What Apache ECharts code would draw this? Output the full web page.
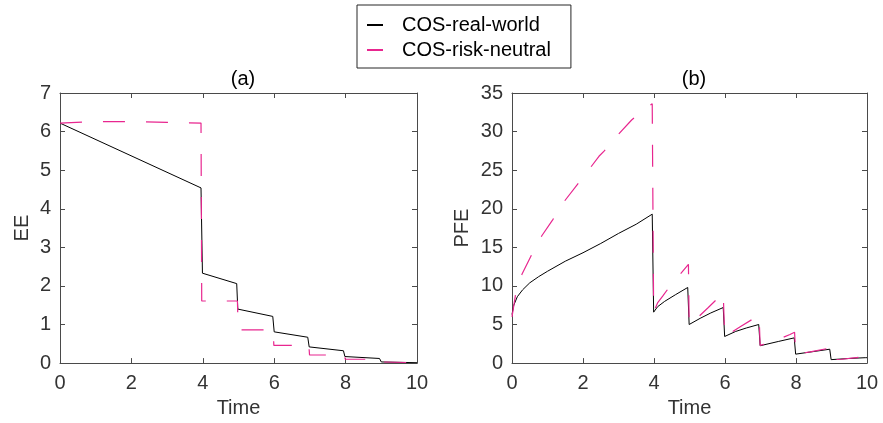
<!DOCTYPE html>
<html>
<head>
<meta charset="utf-8">
<script src="https://cdn.jsdelivr.net/npm/echarts@6/dist/echarts.min.js"></script>
<style>
  html, body { margin: 0; padding: 0; background: #fff; }
  #chart { width: 883px; height: 423px; }
</style>
</head>
<body>
<div id="chart"></div>
<script>
// ---- data ----
const xTicks = [0, 2, 4, 6, 8, 10]

// (a) EE
const eeRealT = [0, 3.95, 3.99, 4.95, 4.98, 5.96, 6.0, 6.94, 6.98, 7.94, 7.98, 8.95, 9.0, 10]
const eeRealV = [6.22, 4.54, 2.33, 2.06, 1.40, 1.21, 0.81, 0.67, 0.42, 0.32, 0.17, 0.12, 0.03, 0.01]
const eeRiskT = [0, 1, 2, 3, 3.95, 3.97, 4.97, 4.99, 5.97, 5.99, 6.97, 6.99, 7.97, 7.99, 8.97, 8.99, 10]
const eeRiskV = [6.22, 6.26, 6.26, 6.24, 6.22, 1.61, 1.61, 0.86, 0.86, 0.46, 0.46, 0.21, 0.21, 0.10, 0.10, 0.03, 0.01]

// (b) PFE
const pfeRealT = [0, 0.05, 0.15, 0.3, 0.5, 0.75, 1, 1.5, 2, 2.5, 3, 3.5, 3.95, 3.99, 4.1, 4.3, 4.6, 4.95, 4.99, 5.3, 5.6, 5.95, 5.99, 6.3, 6.6, 6.95, 6.99, 7.5, 7.95, 7.99, 8.5, 8.95, 8.99, 9.5, 9.95, 10]
const pfeRealV = [6.3, 7.5, 8.6, 9.5, 10.4, 11.2, 11.9, 13.2, 14.3, 15.5, 16.8, 18.0, 19.3, 6.6, 7.3, 8.0, 8.85, 9.8, 5.0, 5.8, 6.5, 7.2, 3.45, 4.1, 4.55, 5.0, 2.25, 2.8, 3.27, 1.16, 1.5, 1.8, 0.45, 0.6, 0.7, 0.7]
const pfeRiskT = [0, 0.1, 0.28, 0.56, 0.84, 1.15, 1.48, 1.85, 2.22, 2.45, 2.6, 2.97, 3.37, 3.7, 3.95, 3.99, 4.1, 4.25, 4.5, 4.75, 4.97, 4.99, 5.09, 5.53, 5.95, 5.99, 6.44, 6.96, 6.99, 7.29, 7.83, 7.96, 7.99, 8.4, 8.96, 8.99, 9.28, 9.97, 10]
const pfeRiskV = [6.0, 8.9, 11.5, 14.1, 16.5, 18.6, 21.0, 23.2, 25.4, 26.8, 27.5, 29.5, 31.5, 32.8, 33.6, 6.6, 7.8, 8.7, 10.3, 11.6, 12.8, 5.0, 5.3, 7.2, 9.1, 3.45, 4.75, 6.2, 2.3, 2.7, 3.7, 4.0, 1.16, 1.45, 1.95, 0.43, 0.5, 0.85, 0.1]

const seriesNames = ['COS-real-world', 'COS-risk-neutral']
const panelTitles = ['(a)', '(b)']
const yNames = ['EE', 'PFE']

const ink = '#333333'
const axisInk = '#4a4a4a'
const pink = '#E8268F'
const font = 'Liberation Sans, Arial, Helvetica, sans-serif'

const zip = (ts, vs) => ts.map((t, i) => [t, vs[i]])

// 一个面板的四条轴（下/上，左/右），做成 MATLAB 那种四边框
function xPair(grid) {
  const base = {
    gridIndex: grid, type: 'value', min: 0, max: 10, interval: 2,
    splitLine: { show: false },
    axisLine: { onZero: false, lineStyle: { color: axisInk, width: 1 } },
    axisTick: { inside: true, length: 5, lineStyle: { color: axisInk } }
  }
  return [
    Object.assign({}, base, {
      position: 'bottom',
      name: 'Time', nameLocation: 'middle', nameGap: 32,
      nameTextStyle: { color: ink, fontSize: 20, fontFamily: font },
      axisLabel: { color: ink, fontSize: 20, fontFamily: font, margin: 10,
        formatter: v => xTicks.includes(v) ? String(v) : '' }
    }),
    Object.assign({}, base, { position: 'top', axisLabel: { show: false } })
  ]
}

function yPair(grid, max, interval, name, gap) {
  const base = {
    gridIndex: grid, type: 'value', min: 0, max: max, interval: interval,
    splitLine: { show: false },
    axisLine: { show: true, onZero: false, lineStyle: { color: axisInk, width: 1 } },
    axisTick: { show: true, inside: true, length: 5, lineStyle: { color: axisInk } }
  }
  return [
    Object.assign({}, base, {
      position: 'left',
      name: name, nameLocation: 'middle', nameGap: gap,
      nameTextStyle: { color: ink, fontSize: 20, fontFamily: font },
      axisLabel: { color: ink, fontSize: 20, fontFamily: font, margin: 9 }
    }),
    Object.assign({}, base, { position: 'right', axisLabel: { show: false } })
  ]
}

function line(name, data, axis, dashed) {
  return {
    name: name, type: 'line', data: data,
    xAxisIndex: axis, yAxisIndex: axis,
    showSymbol: false, symbol: 'none', animation: false,
    lineStyle: dashed
      ? { color: pink, width: 1.2, type: [22, 21] }
      : { color: '#000', width: 1 },
    itemStyle: { color: dashed ? pink : '#000' },
    z: dashed ? 3 : 2
  }
}

const chart = echarts.init(document.getElementById('chart'))

const option = {
  backgroundColor: '#fff',
  animation: false,
  title: [
    { text: panelTitles[0], left: 238, top: 64, textAlign: 'center',
      textStyle: { color: '#000', fontSize: 20, fontWeight: 'normal', fontFamily: font } },
    { text: panelTitles[1], left: 689, top: 64, textAlign: 'center',
      textStyle: { color: '#000', fontSize: 20, fontWeight: 'normal', fontFamily: font } }
  ],
  legend: {
    orient: 'vertical', left: 357, top: 5,
    padding: [9, 20, 7, 10], itemGap: 3,
    itemWidth: 16, itemHeight: 2, icon: 'rect',
    borderColor: '#262626', borderWidth: 1, backgroundColor: '#fff',
    data: seriesNames,
    textStyle: { color: '#000', fontSize: 20, fontFamily: font, lineHeight: 22,
      padding: [0, 0, 0, 14] }
  },
  grid: [
    { left: 60, right: 466, top: 93, bottom: 59 },
    { left: 512, right: 16, top: 93, bottom: 59 }
  ],
  xAxis: [...xPair(0), ...xPair(1)],
  yAxis: [...yPair(0, 7, 1, yNames[0], 28), ...yPair(1, 35, 5, yNames[1], 40)],
  series: [
    line(seriesNames[0], zip(eeRealT, eeRealV), 0, false),
    line(seriesNames[1], zip(eeRiskT, eeRiskV), 0, true),
    line(seriesNames[0], zip(pfeRealT, pfeRealV), 2, false),
    line(seriesNames[1], zip(pfeRiskT, pfeRiskV), 2, true)
  ]
}

chart.setOption(option)
</script>
</body>
</html>
